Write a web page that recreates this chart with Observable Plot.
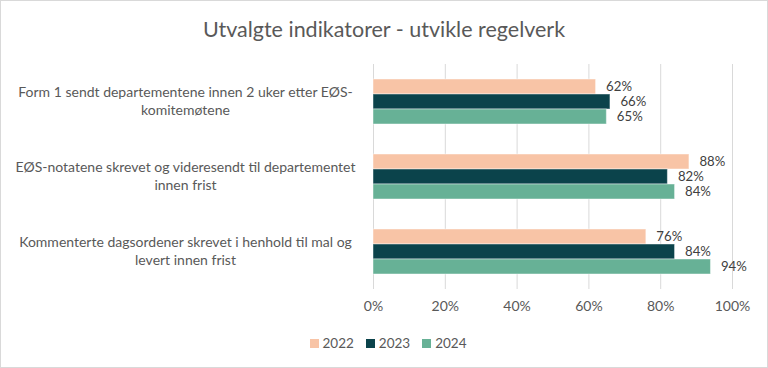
<!DOCTYPE html>
<html>
<head>
<meta charset="utf-8">
<script src="https://cdn.jsdelivr.net/npm/d3@7"></script>
<script src="https://cdn.jsdelivr.net/npm/@observablehq/plot@0.6"></script>
<style>
  html, body { margin: 0; padding: 0; background: white; }
  #chart { width: 768px; height: 368px; box-sizing: border-box; border: 1px solid #d9d9d9; background: white; font-family: Lato, sans-serif; overflow: hidden; }
  #title { height: 54px; line-height: 56px; text-align: center; font-size: 21.5px; color: #595959; }
  #legend { height: 36px; display: flex; justify-content: center; align-items: center; gap: 12px; font-size: 13.5px; color: #595959; padding-left: 8px; }
  .item { display: flex; align-items: center; gap: 4px; }
  .sw { width: 9px; height: 9px; display: inline-block; }
  svg { display: block; }
</style>
</head>
<body>
<div id="chart">
  <div id="title"></div>
  <div id="plot"></div>
  <div id="legend"></div>
</div>
<script>
const title = "Utvalgte indikatorer - utvikle regelverk";
const categoryLabels = [
  "Form 1 sendt departementene innen 2 uker etter EØS-\nkomitemøtene",
  "EØS-notatene skrevet og videresendt til departementet\ninnen frist",
  "Kommenterte dagsordener skrevet i henhold til mal og\nlevert innen frist"
];
const years = ["2022", "2023", "2024"];
const values2022 = [0.62, 0.88, 0.76];
const values2023 = [0.66, 0.82, 0.84];
const values2024 = [0.65, 0.84, 0.94];
const colors = ["#F8C4A6", "#0B434B", "#67B196"];
const xTicks = [0, 0.2, 0.4, 0.6, 0.8, 1];

const seriesValues = [values2022, values2023, values2024];
const rows = [];
categoryLabels.forEach((c, i) => {
  years.forEach((y, j) => rows.push({category: c, year: y, value: seriesValues[j][i]}));
});
const pct = d3.format(".0%");

document.getElementById("title").textContent = title;

const plot = Plot.plot({
  width: 766,
  height: 270,
  marginLeft: 372,
  marginRight: 35,
  marginTop: 8,
  marginBottom: 35,
  style: {fontFamily: "Lato, sans-serif", fontSize: "14px", color: "#595959", background: "white"},
  x: {domain: [0, 1], ticks: xTicks, tickFormat: pct, tickSize: 0, tickPadding: 12, label: null},
  fy: {domain: categoryLabels, padding: 0, axis: null, label: null},
  y: {domain: years, paddingInner: 0, paddingOuter: 0.91, axis: null},
  color: {domain: years, range: colors},
  marks: [
    Plot.gridX(xTicks, {stroke: "#d9d9d9", strokeOpacity: 1, strokeWidth: 1}),
    Plot.barX(rows, {fy: "category", y: "year", x: "value", fill: "year", stroke: "white", strokeOpacity: 0.45, strokeWidth: 1}),
    Plot.text(rows, {fy: "category", y: "year", x: "value", text: d => pct(d.value), textAnchor: "start", dx: 10, fill: "#404040", fontSize: 13.2}),
    Plot.text(categoryLabels, {fy: d => d, text: d => d, frameAnchor: "left", dx: -188, dy: -1.5, textAnchor: "middle", lineHeight: 1.3, fill: "#595959", fontSize: 14})
  ]
});
document.getElementById("plot").appendChild(plot);

const legend = document.getElementById("legend");
years.forEach((y, i) => {
  const item = document.createElement("span");
  item.className = "item";
  const sw = document.createElement("span");
  sw.className = "sw";
  sw.style.background = colors[i];
  const t = document.createElement("span");
  t.textContent = y;
  item.appendChild(sw);
  item.appendChild(t);
  legend.appendChild(item);
});
</script>
</body>
</html>
